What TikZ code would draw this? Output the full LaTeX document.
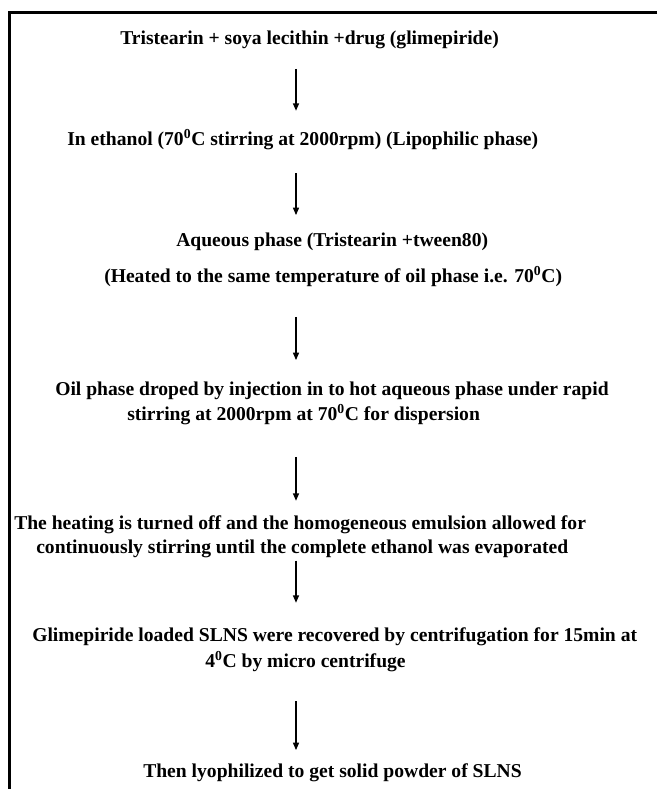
\documentclass[tikz,border=0pt]{standalone}
\usepackage{fontspec}
\setmainfont{Liberation Serif}
\usetikzlibrary{arrows.meta}

\tikzstyle{txt}=[anchor=west,inner sep=0pt,text height=0.7em,text depth=0.25em,font=\bfseries\fontsize{14.7}{17}\selectfont]
\tikzstyle{flow}=[-{Triangle[width=4.5pt,length=5.5pt]},line width=0.9pt]
\tikzstyle{frameline}=[line width=1.6pt]

\begin{document}
\begin{tikzpicture}[x=0.75pt,y=-0.75pt]
	\useasboundingbox (0,0) rectangle (657,789);

	% Rahmen (nur oben und links)
	\draw[frameline] (657,12.5) -- (9.5,12.5) -- (9.5,789);

	\coordinate (ax) at (296,0);

	% Schritte
	\node(tri)   at (120,41)  [txt] {Tristearin + soya lecithin +drug (glimepiride)};
	\node(eth)   at (67,142)  [txt] {In ethanol (70\textsuperscript{0}C stirring at 2000rpm) (Lipophilic phase)};
	\node(aq)    at (176,243) [txt] {Aqueous phase (Tristearin +tween80)};
	\node(heat)  at (104,279) [txt] {(Heated to the same temperature of oil phase i.e. 70\textsuperscript{0}C)};
	\node(oil)   at (55,392)  [txt] {Oil phase droped by injection in to hot aqueous phase under rapid};
	\node(oilb)  at (127,417) [txt] {stirring at 2000rpm at 70\textsuperscript{0}C for dispersion};
	\node(off)   at (14,526)  [txt] {The heating is turned off and the homogeneous emulsion allowed for};
	\node(offb)  at (36,550)  [txt] {continuously stirring until the complete ethanol was evaporated};
	\node(glim)  at (32,638)  [txt] {Glimepiride loaded SLNS were recovered by centrifugation for 15min at};
	\node(glimb) at (205,664) [txt] {4\textsuperscript{0}C by micro centrifuge};
	\node(lyo)   at (143,774) [txt] {Then lyophilized to get solid powder of SLNS};

	% Pfeile
	\draw[flow, shorten <=16pt, shorten >=18.5pt] (tri.south -| ax) -- (eth.north -| ax);
	\draw[flow, shorten <=18.5pt, shorten >=16pt] (eth.south -| ax) -- (aq.north -| ax);
	\draw[flow, shorten <=23.5pt, shorten >=19pt] (heat.south -| ax) -- (oil.north -| ax);
	\draw[flow, shorten <=25pt, shorten >=14pt] (oilb.south -| ax) -- (off.north -| ax);
	\draw[flow, shorten <=3pt, shorten >=21.5pt] (offb.south -| ax) -- (glim.north -| ax);
	\draw[flow, shorten <=23pt, shorten >=13pt] (glimb.south -| ax) -- (lyo.north -| ax);

\end{tikzpicture}
\end{document}
